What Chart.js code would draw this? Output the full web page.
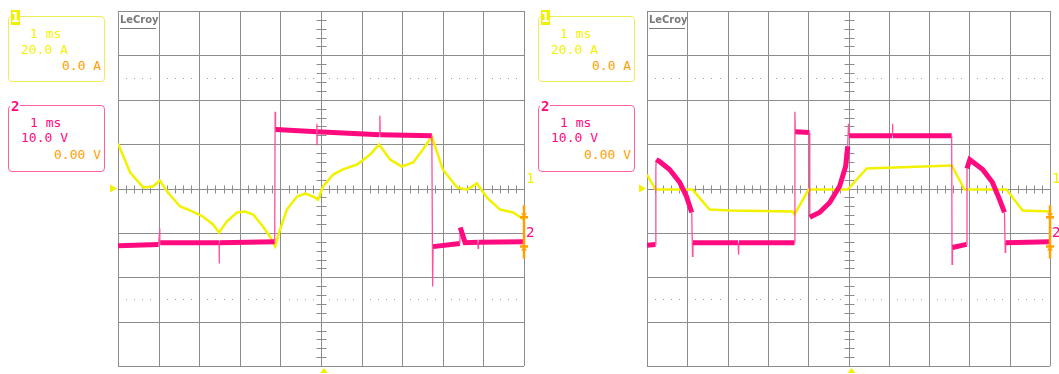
<!DOCTYPE html>
<html>
<head>
<meta charset="utf-8">
<script src="https://cdn.jsdelivr.net/npm/chart.js@4.4.1/dist/chart.umd.min.js"></script>
<style>
  body { margin: 0; background: #fff; width: 1059px; height: 374px; position: relative; overflow: hidden; font-family: "DejaVu Sans Mono", monospace; }
  .wrap { position: absolute; top: 0; height: 374px; }
  .box { position: absolute; border: 1px solid; border-radius: 4px; width: 95px; height: 64px; }
  .t { position: absolute; font-size: 13px; line-height: 13px; white-space: pre; }
  .badge { position: absolute; font-size: 14px; line-height: 14px; font-weight: bold; }
</style>
</head>
<body>
<div class="wrap" style="left:110px;width:425px"><canvas id="scope1" width="425" height="374"></canvas></div>
<div class="wrap" style="left:639px;width:420px"><canvas id="scope2" width="420" height="374"></canvas></div>
<div id="labels"></div>
<script>
// screen divisions (1 ms/div, 20 A/div, 10 V/div)
const timeDivs = [-5, -4, -3, -2, -1, 0, 1, 2, 3, 4, 5];
const currentDivs = [-80, -60, -40, -20, 0, 20, 40, 60, 80];

// left capture - channel 1 current (A)
const leftCurT = [-5.0, -4.70, -4.38, -4.14, -3.97, -3.77, -3.47, -3.23, -2.91, -2.66, -2.51, -2.32, -2.07, -1.87, -1.67, -1.43, -1.26, -1.13,
  -1.01, -0.84, -0.59, -0.39, -0.20, -0.07, 0.05, 0.30, 0.54, 0.89, 1.21, 1.43, 1.70, 1.99, 2.27, 2.51, 2.73, 3.00, 3.35, 3.60, 3.84, 4.09, 4.41, 4.73, 5.0];
const leftCurA = [20.3, 7.2, 0.5, 0.9, 3.6, -1.8, -8.1, -9.9, -12.6, -16.2, -19.8, -14.9, -10.8, -10.4, -11.7, -17.1, -21.6, -26.1,
  -18.5, -9.5, -3.6, -2.3, -3.6, -5.0, 0.9, 6.3, 8.6, 10.8, 15.3, 19.8, 13.1, 9.9, 11.7, 17.6, 23.4, 8.6, 0.5, -0.5, 2.3, -4.1, -9.5, -10.8, -14.0];

// left capture - channel 2 voltage (V)
const leftVoltT = [-5.0, -4.0, -3.97, -3.97, -3.96, -2.51, -2.51, -2.50, -1.14, -1.13, -1.12, -0.10, -0.10, -0.10, -0.09,
  1.44, 1.45, 1.46, 2.73, 2.75, 2.76, 3.42, 3.43, 3.55, 3.86, 3.87, 3.88, 5.0];
const leftVoltV = [-12.9, -12.6, -9.0, -12.4, -12.2, -12.2, -16.9, -12.2, -12.0, 17.3, 13.3, 12.8, 14.6, 9.7, 12.8,
  12.1, 16.4, 12.1, 11.9, -22.1, -13.1, -12.4, -8.8, -12.2, -12.1, -13.5, -12.1, -12.0];

// right capture - channel 1 current (A)
const rightCurT = [-5.0, -4.79, -3.87, -3.45, -2.95, -1.39, -1.34, -0.99, -0.02, 0.45, 2.56, 2.88, 3.92, 4.32, 5.0];
const rightCurA = [6.3, -0.5, -0.5, -9.5, -9.9, -10.4, -11.7, -0.5, -0.5, 9.0, 10.4, -0.5, -0.5, -9.9, -10.4];

// right capture - channel 2 voltage (V)
const rightVoltT = [-5.0, -4.79, -4.78, -4.77, -4.69, -4.44, -4.19, -4.02, -3.89, -3.87, -3.86, -2.74, -2.73, -2.72, -1.34, -1.33, -1.32,
  -0.97, -0.96, -0.72, -0.47, -0.22, -0.07, -0.02, 0.0, 0.02, 1.08, 1.09, 1.10, 2.56, 2.57, 2.58, 2.93, 2.94, 3.01, 3.33, 3.57, 3.75, 3.87, 3.89, 3.90, 5.0];
const rightVoltV = [-12.8, -12.6, 4.5, 6.5, 6.1, 4.3, 1.4, -1.8, -5.4, -15.3, -12.2, -12.2, -14.9, -12.2, -12.2, 17.3, 12.8,
  12.6, -6.5, -5.4, -3.2, 0.5, 5.0, 9.5, 14.6, 11.9, 11.9, 14.6, 11.9, 11.9, -17.1, -13.3, -12.6, 4.5, 6.5, 4.3, 1.4, -2.5, -5.4, -14.4, -12.2, -12.0];

const YELLOW = '#f2f200';
const PINK = '#ff0a7f';
const GRID = '#8c8c8c';
const ORANGE = '#ffa000';

function pts(t, v) { return t.map((x, i) => ({ x: x, y: v[i] })); }

// scope graticule, drawn from the scales
const graticule = {
  id: 'graticule',
  beforeDatasetsDraw(chart) {
    const { ctx, chartArea: a, scales } = chart;
    const x = scales.x, y = scales.yA;
    ctx.save();
    ctx.strokeStyle = GRID;
    ctx.lineWidth = 1;
    ctx.beginPath();
    timeDivs.forEach(t => {
      const px = Math.round(x.getPixelForValue(t)) + 0.5;
      ctx.moveTo(px, a.top); ctx.lineTo(px, a.bottom);
    });
    currentDivs.forEach(v => {
      const py = Math.round(y.getPixelForValue(v)) + 0.5;
      ctx.moveTo(a.left, py); ctx.lineTo(a.right, py);
    });
    // minor ticks on the centre cross
    const cx = Math.round(x.getPixelForValue(0)) + 0.5;
    const cy = Math.round(y.getPixelForValue(0)) + 0.5;
    for (let t = -5; t < 5; t += 0.2) {
      if (Math.abs(t - Math.round(t)) < 0.01) continue;
      const px = Math.round(x.getPixelForValue(t)) + 0.5;
      ctx.moveTo(px, cy - 4); ctx.lineTo(px, cy + 4);
    }
    for (let v = -80; v < 80; v += 4) {
      if (Math.abs(v / 20 - Math.round(v / 20)) < 0.01) continue;
      const py = Math.round(y.getPixelForValue(v)) + 0.5;
      ctx.moveTo(cx - 5, py); ctx.lineTo(cx + 5, py);
    }
    ctx.stroke();
    // dotted lines at +-2.5 div
    ctx.fillStyle = '#9a9a9a';
    [50, -50].forEach(v => {
      const py = Math.round(y.getPixelForValue(v));
      for (let t = -5; t < 5; t += 0.2) {
        if (Math.abs(t - Math.round(t)) < 0.01) continue;
        const px = Math.round(x.getPixelForValue(t));
        ctx.fillRect(px, py, 1, 1);
      }
    });
    // LeCroy logo
    ctx.fillStyle = '#7a7a7a';
    ctx.font = 'bold 11px "DejaVu Sans Condensed", sans-serif';
    ctx.textBaseline = 'top';
    ctx.fillText('LeCroy', a.left + 2, a.top + 4);
    ctx.fillRect(a.left + 2, a.top + 17, 36, 1);
    ctx.restore();
  },
  afterDraw(chart) {
    const { ctx, chartArea: a, scales } = chart;
    const x = scales.x, y = scales.yA;
    const cy = y.getPixelForValue(0);
    const cx = x.getPixelForValue(0);
    ctx.save();
    // trigger / ground markers
    ctx.fillStyle = YELLOW;
    ctx.beginPath();
    ctx.moveTo(a.left - 8, cy - 4); ctx.lineTo(a.left - 1, cy); ctx.lineTo(a.left - 8, cy + 4);
    ctx.fill();
    ctx.beginPath();
    ctx.moveTo(cx - 1, a.bottom + 7); ctx.lineTo(cx + 3, a.bottom + 2); ctx.lineTo(cx + 7, a.bottom + 7);
    ctx.fill();
    ctx.font = '14px "DejaVu Sans Mono", monospace';
    ctx.textBaseline = 'middle';
    ctx.fillText('1', a.right + 2, cy - 9);
    // orange offset marker
    const top = y.getPixelForValue(-7.6), bot = y.getPixelForValue(-31.6);
    ctx.strokeStyle = ORANGE;
    ctx.lineWidth = 2.5;
    ctx.beginPath();
    ctx.moveTo(a.right, top); ctx.lineTo(a.right, bot);
    [top + 12, bot - 12].forEach(py => { ctx.moveTo(a.right - 4, py); ctx.lineTo(a.right + 4, py); });
    ctx.stroke();
    ctx.fillStyle = ORANGE;
    [top + 12, bot - 12].forEach(py => {
      ctx.beginPath();
      ctx.moveTo(a.right - 3, py + (py < cy + 40 ? -4 : 4)); ctx.lineTo(a.right, py); ctx.lineTo(a.right + 3, py + (py < cy + 40 ? -4 : 4));
      ctx.fill();
    });
    ctx.fillStyle = PINK;
    ctx.fillText('2', a.right + 2, y.getPixelForValue(-20));
    ctx.restore();
  }
};

function makeScope(id, curT, curA, voltT, voltV) {
  new Chart(document.getElementById(id), {
    type: 'line',
    data: {
      datasets: [{
        label: 'Ch2 V',
        data: pts(voltT, voltV),
        yAxisID: 'yV',
        borderColor: PINK,
        borderWidth: 5,
        borderCapStyle: 'butt',
        pointRadius: 0,
        tension: 0,
        segment: {
          borderWidth: c => Math.abs(c.p1.parsed.x - c.p0.parsed.x) < 0.03 ? 1.3 : 5,
          borderColor: c => Math.abs(c.p1.parsed.x - c.p0.parsed.x) < 0.03 ? '#ff4f9f' : PINK,
        },
      }, {
        label: 'Ch1 A',
        data: pts(curT, curA),
        yAxisID: 'yA',
        borderColor: YELLOW,
        borderWidth: 2.5,
        pointRadius: 0,
        tension: 0,
      }]
    },
    plugins: [graticule],
    options: {
      responsive: false,
      animation: false,
      layout: { padding: { left: 8, right: id === 'scope1' ? 11 : 9, top: 11, bottom: 8 } },
      plugins: { legend: { display: false }, tooltip: { enabled: false } },
      scales: {
        x: { type: 'linear', min: -5, max: 5, display: false },
        yA: { type: 'linear', min: -80, max: 80, display: false },
        yV: { type: 'linear', min: -40, max: 40, display: false },
      }
    }
  });
}

makeScope('scope1', leftCurT, leftCurA, leftVoltT, leftVoltV);
makeScope('scope2', rightCurT, rightCurA, rightVoltT, rightVoltV);

// channel info boxes
function infoBoxes(dx) {
  const el = document.getElementById('labels');
  el.insertAdjacentHTML('beforeend', `
    <div class="box" style="left:${dx + 8}px;top:16px;border-color:#eeee55"></div>
    <div class="badge" style="left:${dx + 11}px;top:10px;width:9px;height:15px;background:#f0f000;color:#fff;text-align:center">1</div>
    <div class="t" style="left:${dx + 30}px;top:27px;color:${YELLOW}">1 ms</div>
    <div class="t" style="left:${dx + 21}px;top:43px;color:${YELLOW}">20.0 A</div>
    <div class="t" style="left:${dx + 62}px;top:59px;color:${ORANGE}">0.0 A</div>
    <div class="box" style="left:${dx + 8}px;top:105px;height:65px;border-color:#ff5fa5"></div>
    <div class="badge" style="left:${dx + 10}px;top:99px;background:#fff;color:${PINK};padding:0 1px">2</div>
    <div class="t" style="left:${dx + 30}px;top:116px;color:${PINK}">1 ms</div>
    <div class="t" style="left:${dx + 21}px;top:131px;color:${PINK}">10.0 V</div>
    <div class="t" style="left:${dx + 54}px;top:148px;color:${ORANGE}">0.00 V</div>
  `);
}
infoBoxes(0);
infoBoxes(530);
</script>
</body>
</html>
